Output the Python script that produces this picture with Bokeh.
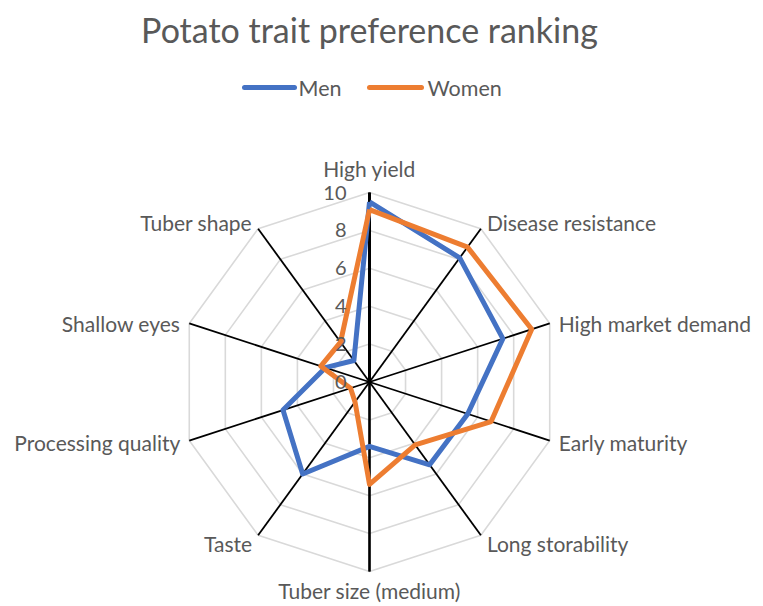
import math
from bokeh.plotting import figure
from bokeh.models import Range1d, ColumnDataSource
from bokeh.core.properties import value
from bokeh.embed import file_html
from bokeh.resources import INLINE

# ---- data ----
categories = ["High yield", "Disease resistance", "High market demand", "Early maturity",
              "Long storability", "Tuber size (medium)", "Taste", "Processing quality",
              "Shallow eyes", "Tuber shape"]
men = [9.5, 8.1, 7.4, 5.45, 5.4, 3.4, 6.0, 4.8, 2.45, 1.4]
women = [9.1, 8.8, 9.0, 6.75, 4.1, 5.4, 1.3, 1.05, 2.7, 2.6]
tick_values = [0, 2, 4, 6, 8, 10]
tick_labels = ["0", "2", "4", "6", "8", "10"]
series_names = ["Men", "Women"]
title_text = "Potato trait preference ranking"

# ---- style / layout ----
W, H = 763, 606
CX, CY = 369.0, 381.5
R = 189.5
VMAX = 10.0
FONT = "Lato"
TXT = "#595959"
BLUE = "#4472C4"
ORANGE = "#ED7D31"

p = figure(width=W, height=H, output_backend="svg", toolbar_location=None,
           x_range=Range1d(0, W), y_range=Range1d(H, 0),
           min_border=0, outline_line_color=None)
p.axis.visible = False
p.grid.visible = False
p.background_fill_color = "white"
p.border_fill_color = "white"

n = len(categories)
angles = [2 * math.pi * i / n for i in range(n)]


def pt(v, a):
    r = v / VMAX * R
    return CX + r * math.sin(a), CY - r * math.cos(a)


# grid decagons
for tv in tick_values[1:]:
    xs = [pt(tv, a)[0] for a in angles] + [pt(tv, angles[0])[0]]
    ys = [pt(tv, a)[1] for a in angles] + [pt(tv, angles[0])[1]]
    p.line(xs, ys, line_color="#d9d9d9", line_width=1.6)

# spokes
for i, a in enumerate(angles):
    x1, y1 = pt(VMAX, a)
    p.line([CX, x1], [CY, y1], line_color="black", line_width=1.8)
# value axis (vertical, thicker)
x1, y1 = pt(VMAX, 0)
p.line([CX, x1], [CY, y1], line_color="black", line_width=3)
x2, y2 = pt(VMAX, math.pi)
p.line([CX, x2], [CY, y2], line_color="black", line_width=2.4)

# series
for vals, col in [(men, BLUE), (women, ORANGE)]:
    xs = [pt(v, a)[0] for v, a in zip(vals, angles)]
    ys = [pt(v, a)[1] for v, a in zip(vals, angles)]
    xs.append(xs[0]); ys.append(ys[0])
    p.line(xs, ys, line_color=col, line_width=5, line_join="round")

# tick labels
p.text(x=[CX - 23] * len(tick_values), y=[CY - tv / VMAX * R for tv in tick_values],
       text=tick_labels, text_font=value(FONT), text_font_size="20px",
       text_color=TXT, text_align="right", text_baseline="middle")

# category labels
lx, ly, la = [], [], []
for c, a in zip(categories, angles):
    x, y = pt(VMAX, a)
    s = math.sin(a)
    cc = math.cos(a)
    if abs(s) < 1e-6:
        al = "center"
        y = y - 24 if cc > 0 else y + 19
    else:
        al = "left" if s > 0 else "right"
        side = 1 if s > 0 else -1
        if abs(cc) > 0.5:      # 36-degree spokes
            x += side * 6
            y += -6 if cc > 0 else 8
        else:                  # 72-degree spokes
            x += side * 9
            y += 0 if cc > 0 else 2
    lx.append(x); ly.append(y); la.append(al)
src = ColumnDataSource(dict(x=lx, y=ly, t=categories, a=la))
p.text(x="x", y="y", text="t", text_align="a", source=src, text_font=value(FONT),
       text_font_size="21px", text_color=TXT, text_baseline="middle")

# title
p.text(x=[369], y=[29], text=[title_text], text_font=value(FONT), text_font_size="34px",
       text_color=TXT, text_align="center", text_baseline="middle")

# legend
p.line([244, 294], [87, 87], line_color=BLUE, line_width=5, line_cap="round")
p.line([369, 421], [87, 87], line_color=ORANGE, line_width=5, line_cap="round")
p.text(x=[298, 427], y=[87, 87], text=series_names, text_font=value(FONT),
       text_font_size="21.5px", text_color=TXT, text_baseline="middle")

open("out.html", "w").write(file_html(p, INLINE))
